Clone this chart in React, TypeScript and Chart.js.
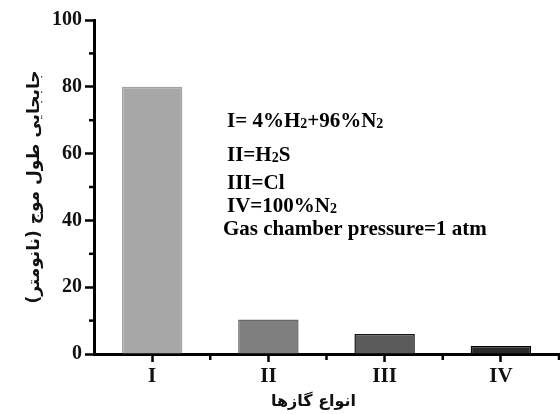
import React, { useEffect, useRef } from 'react';
import { Chart, registerables } from 'chart.js';

Chart.register(...registerables);

const categories = ['I', 'II', 'III', 'IV'];
const shiftValues = [80, 10.3, 6, 2.4];
const barColors = ['#a7a7a7', '#7f7f7f', '#5b5b5b', '#2a2a2a'];
const barBorders = ['#a2a2a2', '#666666', '#151515', '#000000'];
const yTicksMin = 0;
const yTicksMax = 100;
const yTickStep = 20;
const yTitle = 'جابجایی طول موج (نانومتر)';
const xTitle = 'انواع گازها';
// each line: segments [text, isSubscript]
const noteLines: [string, boolean][][] = [
  [['I= 4%H', false], ['2', true], ['+96%N', false], ['2', true]],
  [['II=H', false], ['2', true], ['S', false]],
  [['III=Cl', false]],
  [['IV=100%N', false], ['2', true]],
  [['Gas chamber pressure=1 atm', false]],
];
const noteOffsets = [
  { dx: 133, dy: 107 },
  { dx: 133, dy: 141 },
  { dx: 133, dy: 169 },
  { dx: 133, dy: 192 },
  { dx: 129, dy: 215 },
];

const SERIF = '"Liberation Serif", "Times New Roman", serif';
const PERSIAN = '"DejaVu Sans", sans-serif';

const extrasPlugin = {
  id: 'extras',
  afterDraw(chart: any) {
    const { ctx, chartArea, scales } = chart;
    const y = scales.y;
    const x = scales.x;
    ctx.save();
    // minor y ticks
    ctx.strokeStyle = '#000';
    ctx.lineWidth = 2.5;
    const t = y.ticks;
    for (let i = 0; i < t.length - 1; i++) {
      const mid = (t[i].value + t[i + 1].value) / 2;
      const py = y.getPixelForValue(mid);
      ctx.beginPath();
      ctx.moveTo(chartArea.left - 5, py);
      ctx.lineTo(chartArea.left, py);
      ctx.stroke();
    }
    // boundary x ticks
    const n = categories.length;
    const w = (chartArea.right - chartArea.left) / n;
    for (let i = 1; i <= n; i++) {
      const px = x.getPixelForValue(i - 1) + w / 2;
      ctx.beginPath();
      ctx.moveTo(px, chartArea.bottom);
      ctx.lineTo(px, chartArea.bottom + 6);
      ctx.stroke();
    }
    // note text
    ctx.fillStyle = '#000';
    ctx.textBaseline = 'alphabetic';
    ctx.textAlign = 'left';
    noteLines.forEach((line, li) => {
      let cx = chartArea.left + noteOffsets[li].dx;
      const by = chartArea.top + noteOffsets[li].dy;
      line.forEach(([txt, sub]) => {
        ctx.font = sub ? `bold 14px ${SERIF}` : `bold 21px ${SERIF}`;
        ctx.fillText(txt, cx, by + (sub ? 1 : 0));
        cx += ctx.measureText(txt).width;
      });
    });
    // x axis title
    ctx.font = `bold 16px ${PERSIAN}`;
    ctx.fillStyle = '#111';
    ctx.textAlign = 'center';
    ctx.textBaseline = 'middle';
    ctx.fillText(xTitle, (chartArea.left + chartArea.right) / 2 - 13, chartArea.bottom + 48);
    ctx.restore();
  },
};

export default function App() {
  const ref = useRef<HTMLCanvasElement>(null);
  useEffect(() => {
    if (!ref.current) return;
    const chart = new Chart(ref.current, {
      type: 'bar',
      data: {
        labels: categories,
        datasets: [
          {
            data: shiftValues,
            backgroundColor: barColors,
            borderColor: barBorders,
            borderWidth: 1.5,
            barPercentage: 0.52,
            categoryPercentage: 1,
          },
        ],
      },
      options: {
        responsive: false,
        animation: false,
        layout: { padding: { top: 20, right: 1, left: 0, bottom: 0 } },
        plugins: { legend: { display: false }, tooltip: { enabled: false } },
        scales: {
          x: {
            grid: {
              offset: false,
              drawOnChartArea: false,
              drawTicks: true,
              tickLength: 8,
              tickWidth: 2.5,
              tickColor: '#000',
            },
            border: { display: true, color: '#000', width: 3 },
            ticks: {
              color: '#111',
              padding: 2,
              font: { family: SERIF, size: 21, weight: 'bold' },
            },
            title: { display: false, text: xTitle },
            afterFit: (s: any) => {
              s.height = 60;
            },
          },
          y: {
            min: yTicksMin,
            max: yTicksMax,
            grid: {
              drawOnChartArea: false,
              drawTicks: true,
              tickLength: 9,
              tickWidth: 2.5,
              tickColor: '#000',
            },
            border: { display: true, color: '#000', width: 3 },
            ticks: {
              stepSize: yTickStep,
              color: '#111',
              padding: 3,
              font: { family: SERIF, size: 20, weight: 'bold' },
            },
            title: {
              display: true,
              text: yTitle,
              color: '#111',
              font: { family: PERSIAN, size: 17, weight: 'bold' },
              padding: { top: 24, bottom: 0 },
            },
            afterFit: (s: any) => {
              s.width = 94;
            },
          },
        },
      },
      plugins: [extrasPlugin],
    });
    return () => chart.destroy();
  }, []);
  return (
    <div style={{ position: 'absolute', left: 0, top: 0, width: 560, height: 414, background: '#fff' }}>
      <canvas ref={ref} width={560} height={414} />
    </div>
  );
}
